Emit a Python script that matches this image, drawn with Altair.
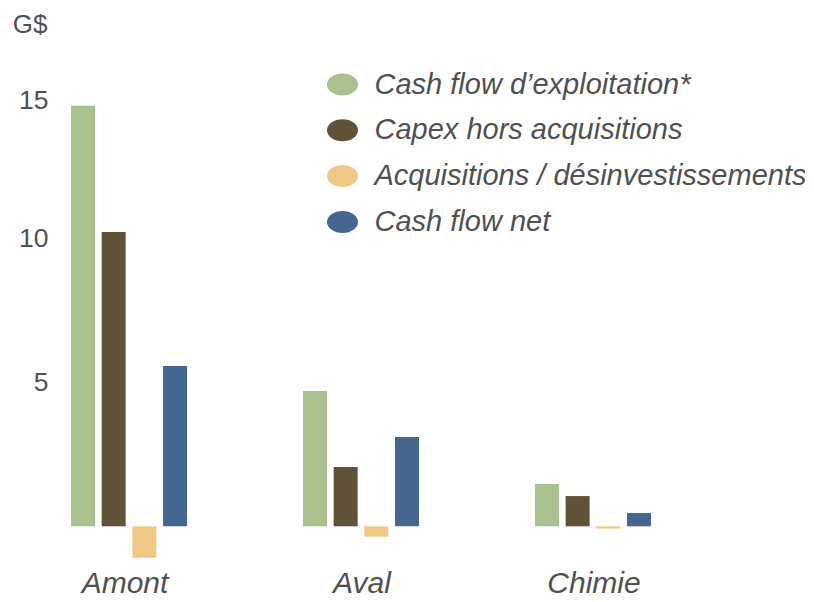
import altair as alt
import pandas as pd

segments = ["Amont", "Aval", "Chimie"]
series = [
    "Cash flow d’exploitation*",
    "Capex hors acquisitions",
    "Acquisitions / désinvestissements",
    "Cash flow net",
]
cash_flow_exploitation = [14.6, 4.70, 1.47]
capex_hors_acquisitions = [10.22, 2.06, 1.05]
acquisitions_desinvest = [-1.09, -0.36, -0.08]
cash_flow_net = [5.57, 3.10, 0.46]
colors = ["#a8c18f", "#5f5237", "#f0c885", "#45678f"]
y_ticks = [5, 10, 15]

rows = []
for values, name in zip(
    [cash_flow_exploitation, capex_hors_acquisitions, acquisitions_desinvest, cash_flow_net], series
):
    for seg, v in zip(segments, values):
        rows.append({"segment": seg, "serie": name, "value": v})
df = pd.DataFrame(rows)

FONT = "Liberation Sans"
TXT = "#505050"

ellipse = "M -1 0 A 1 0.71 0 1 1 1 0 A 1 0.71 0 1 1 -1 0 Z"

chart = (
    alt.Chart(df)
    .mark_bar()
    .encode(
        x=alt.X(
            "segment:N",
            sort=segments,
            scale=alt.Scale(paddingInner=0.405, paddingOuter=0),
            axis=alt.Axis(
                title=None,
                labelAngle=0,
                ticks=False,
                domain=False,
                labelFont=FONT,
                labelFontStyle="italic",
                labelFontSize=30,
                labelColor=TXT,
                labelBaseline="alphabetic",
                labelPadding=22.5,
                labelOffset={"condition": {"test": "datum.value == 'Amont'", "value": -4}, "value": 1},
            ),
        ),
        xOffset=alt.XOffset(
            "serie:N",
            sort=series,
            scale=alt.Scale(paddingInner=0.217, paddingOuter=0.358),
        ),
        y=alt.Y(
            "value:Q",
            scale=alt.Scale(domain=[-1.5, 16], nice=False),
            axis=alt.Axis(
                values=y_ticks,
                title="G$",
                titleAngle=0,
                titleAlign="right",
                titleBaseline="alphabetic",
                titleX=-13,
                titleY=-33,
                titleFont=FONT,
                titleFontSize=26,
                titleFontWeight="normal",
                titleColor=TXT,
                ticks=False,
                domain=False,
                grid=False,
                labelFont=FONT,
                labelFontSize=26.5,
                labelColor=TXT,
                labelPadding=12,
                labelOffset={"condition": {"test": "datum.value == 15", "value": 6.5}, "value": 0.5},
            ),
        ),
        color=alt.Color(
            "serie:N",
            sort=series,
            scale=alt.Scale(domain=series, range=colors),
            legend=alt.Legend(
                title=None,
                orient="none",
                legendX=267,
                legendY=3.5,
                symbolType=ellipse,
                symbolSize=961,
                symbolStrokeWidth=0,
                symbolOpacity=1,
                labelFont=FONT,
                labelFontStyle="italic",
                labelFontSize=29,
                labelColor=TXT,
                labelOffset=16.5,
                labelLimit=600,
                rowPadding=14.8,
                padding=0,
            ),
        ),
    )
    .properties(
        width=602,
        height=504,
        padding={"left": 52, "top": 57.5, "right": 143, "bottom": 24.5},
        autosize=alt.AutoSizeParams(type="none"),
    )
    .configure_view(strokeWidth=0)
)

chart.save("out.html", embed_options={"renderer": "svg", "actions": False})
